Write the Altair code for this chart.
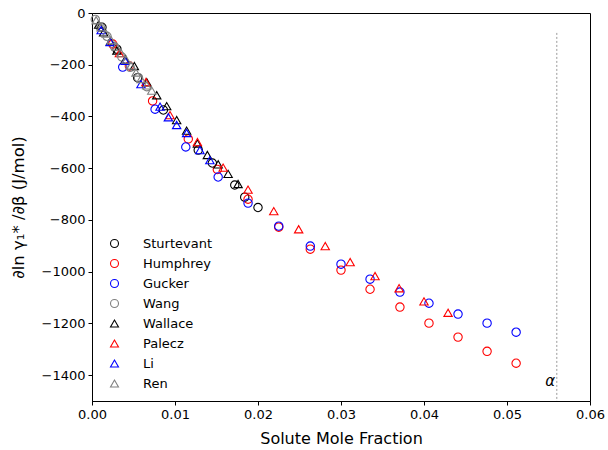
import altair as alt
import pandas as pd

# Partial derivative of ln(activity coefficient) vs. solute mole fraction, by source
sturtevant_x = [0.0012, 0.0030, 0.0055, 0.0086, 0.0128, 0.0145, 0.0172, 0.0184, 0.0200]
sturtevant_y = [-55, -140, -250, -375, -530, -580, -665, -712, -752]

humphrey_x = [0.0025, 0.0045, 0.0073, 0.0116, 0.0151, 0.0188, 0.0225, 0.0263, 0.0300,
              0.0335, 0.0371, 0.0406, 0.0441, 0.0476, 0.0511]
humphrey_y = [-120, -205, -340, -487, -605, -720, -828, -913, -994,
              -1068, -1137, -1199, -1253, -1308, -1354]

gucker_x = [0.0037, 0.0076, 0.0113, 0.0152, 0.0188, 0.0225, 0.0263, 0.0300,
            0.0335, 0.0371, 0.0406, 0.0441, 0.0476, 0.0511]
gucker_y = [-209, -372, -518, -634, -735, -824, -901, -971,
            -1029, -1079, -1122, -1164, -1199, -1234]

wang_x = [0.0004, 0.0010, 0.0018, 0.0027, 0.0036, 0.0046, 0.0056, 0.0066]
wang_y = [-25, -55, -90, -130, -170, -210, -250, -285]

wallace_x = [0.0008, 0.0014, 0.0022, 0.0030, 0.0040, 0.0051, 0.0066, 0.0078,
             0.0090, 0.0102, 0.0114, 0.0127, 0.0139, 0.0152, 0.0164, 0.0176]
wallace_y = [-45, -75, -110, -145, -180, -205, -268, -318,
             -360, -414, -455, -505, -549, -585, -622, -661]

palecz_x = [0.0033, 0.0065, 0.0094, 0.0127, 0.0158, 0.0188, 0.0219, 0.0249,
            0.0281, 0.0311, 0.0341, 0.0370, 0.0400, 0.0429]
palecz_y = [-155, -267, -395, -499, -598, -683, -766, -836,
            -901, -963, -1017, -1064, -1115, -1159]

li_x = [0.0011, 0.0022, 0.0040, 0.0059, 0.0082, 0.0092, 0.0102, 0.0114, 0.0130, 0.0142]
li_y = [-66, -112, -185, -275, -362, -403, -433, -464, -530, -569]

ren_x = [0.0005, 0.0011, 0.0017, 0.0023, 0.0029, 0.0035, 0.0041, 0.0047,
         0.0053, 0.0059, 0.0066, 0.0072]
ren_y = [-28, -55, -80, -105, -130, -155, -180, -203, -230, -255, -280, -300]

names = ["Sturtevant", "Humphrey", "Gucker", "Wang", "Wallace", "Palecz", "Li", "Ren"]
colors = ["black", "red", "blue", "gray", "black", "red", "blue", "gray"]
shapes = ["circle"] * 4 + ["triangle-up"] * 4

series = [
    (sturtevant_x, sturtevant_y), (humphrey_x, humphrey_y), (gucker_x, gucker_y),
    (wang_x, wang_y), (wallace_x, wallace_y), (palecz_x, palecz_y),
    (li_x, li_y), (ren_x, ren_y),
]

rows = []
for name, (xs, ys) in zip(names, series):
    for xv, yv in zip(xs, ys):
        rows.append({"source": name, "x": xv, "y": yv})
df = pd.DataFrame(rows)

alpha_x = 0.056  # composition limit marker
rule_df = pd.DataFrame({"x": [alpha_x], "y": [-77], "y2": [-1500]})
label_df = pd.DataFrame({"x": [0.0552], "y": [-1424], "t": ["α"]})

x_scale = alt.Scale(domain=[0, 0.06], nice=False, zero=False)
y_scale = alt.Scale(domain=[-1500, 0], nice=False)

legend = alt.Legend(
    title=None, orient="none", legendX=16, legendY=224,
    labelFontSize=13, labelFont="DejaVu Sans", labelColor="black",
    symbolSize=64, symbolStrokeWidth=1.1, symbolFillColor="transparent",
    rowPadding=6, labelOffset=22, padding=0,
)

points = alt.Chart(df).mark_point(filled=False, size=70, strokeWidth=1.1, opacity=1).encode(
    x=alt.X("x:Q", scale=x_scale,
            axis=alt.Axis(values=[0, 0.01, 0.02, 0.03, 0.04, 0.05, 0.06], format=".2f",
                          labelFlush=False,
                          title="Solute Mole Fraction", titleY=29)),
    y=alt.Y("y:Q", scale=y_scale,
            axis=alt.Axis(values=list(range(-1400, 1, 200)), format="d",
                          labelFlush=False, titleFontSize=16.5,
                          title="∂ln γ₁* /∂β (J/mol)", titleX=-66)),
    color=alt.Color("source:N", scale=alt.Scale(domain=names, range=colors), legend=legend),
    shape=alt.Shape("source:N", scale=alt.Scale(domain=names, range=shapes), legend=legend),
)

rule = alt.Chart(rule_df).mark_rule(color="#999999", strokeDash=[2, 2], strokeWidth=1).encode(
    x=alt.X("x:Q", scale=x_scale), y=alt.Y("y:Q", scale=y_scale), y2="y2:Q"
)

alpha_text = alt.Chart(label_df).mark_text(
    fontSize=15, fontStyle="italic", font="DejaVu Sans", color="black"
).encode(x=alt.X("x:Q", scale=x_scale), y=alt.Y("y:Q", scale=y_scale), text="t:N")

chart = alt.layer(rule, points, alpha_text).properties(
    width=498, height=388,
    autosize=alt.AutoSizeParams(type="none"),
    padding={"left": 92, "top": 13, "right": 18, "bottom": 49},
).configure_axis(
    grid=False, labelFont="DejaVu Sans", labelFontSize=13, labelColor="black",
    titleFont="DejaVu Sans", titleFontSize=16, titleFontWeight="normal", titleColor="black",
    tickColor="black", domainColor="black", tickSize=4, labelPadding=3,
).configure_view(stroke="black", strokeWidth=1)

chart.save("out.html", embed_options={"renderer": "svg", "actions": False})
